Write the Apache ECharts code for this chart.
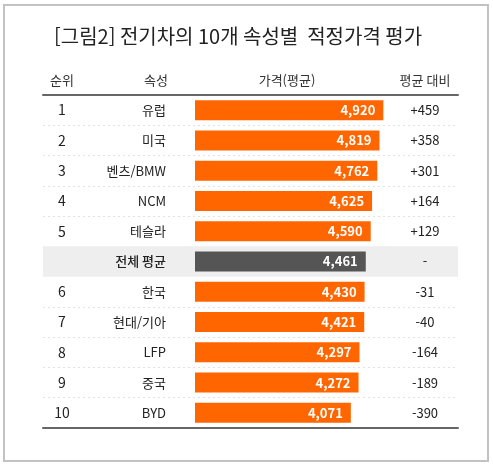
<!DOCTYPE html>
<html lang="ko">

<head>
    <meta charset="UTF-8">
    <title>전기차 속성별 적정가격</title>
    <script type="text/javascript" src="https://cdn.jsdelivr.net/npm/echarts@6/dist/echarts.min.js"></script>
    <style>
        html, body {
            margin: 0;
            padding: 0;
            background: #fff;
        }

        #chart {
            width: 493px;
            height: 467px;
        }
    </style>
</head>

<body>
    <div id="chart"></div>
    <script>
        var ranks = ['1', '2', '3', '4', '5', '', '6', '7', '8', '9', '10'];
        var names = ['유럽', '미국', '벤츠/BMW', 'NCM', '테슬라', '전체 평균', '한국', '현대/기아', 'LFP', '중국', 'BYD'];
        var prices = [4920, 4819, 4762, 4625, 4590, 4461, 4430, 4421, 4297, 4272, 4071];
        var diffs = ['+459', '+358', '+301', '+164', '+129', '-', '-31', '-40', '-164', '-189', '-390'];
        var avgName = '전체 평균';

        var font = 'Noto Sans CJK KR';
        var orange = '#ff6600';
        var gray = '#555555';

        // one shade per row band, only the average row is tinted
        var bandColors = names.map(function (n) {
            return n === avgName ? '#eeeeee' : 'rgba(0,0,0,0)';
        });
        // lines between rows: hide the outer ones and the ones round the average row
        var lineColors = [];
        for (var i = 0; i <= names.length; i++) {
            var hide = i === 0 || i === names.length || names[i] === avgName || names[i - 1] === avgName;
            lineColors.push(hide ? 'rgba(0,0,0,0)' : '#e2e2e2');
        }

        var chart = echarts.init(document.getElementById('chart'));
        var option = {
            animation: false,
            textStyle: { fontFamily: font },
            title: {
                text: '[그림2] 전기차의 10개 속성별  적정가격 평가',
                left: 49,
                top: 21,
                textStyle: { fontSize: 20, fontWeight: 'normal', color: '#222', fontFamily: font }
            },
            graphic: [
                {
                    type: 'rect', silent: true, z: -1,
                    shape: { x: 4, y: 5, width: 484, height: 456 },
                    style: { fill: 'none', stroke: '#c2c2c2', lineWidth: 2 }
                },
                { type: 'text', x: 62, y: 80, style: { text: '순위', textAlign: 'center', textVerticalAlign: 'middle', fontSize: 13, fill: '#333', fontFamily: font } },
                { type: 'text', x: 156, y: 80, style: { text: '속성', textAlign: 'center', textVerticalAlign: 'middle', fontSize: 13, fill: '#333', fontFamily: font } },
                { type: 'text', x: 287, y: 80, style: { text: '가격(평균)', textAlign: 'center', textVerticalAlign: 'middle', fontSize: 13, fill: '#333', fontFamily: font } },
                { type: 'text', x: 425, y: 80, style: { text: '평균 대비', textAlign: 'center', textVerticalAlign: 'middle', fontSize: 13, fill: '#333', fontFamily: font } }
            ],
            grid: [
                { left: 195, right: 106.6, top: 95, bottom: 39 },
                { left: 43, right: 35, top: 95, bottom: 39 }
            ],
            xAxis: [
                { gridIndex: 0, type: 'value', min: 0, max: 5000, show: false },
                {
                    gridIndex: 1, type: 'value', min: 0, max: 1, position: 'top',
                    axisLine: { show: true, lineStyle: { color: '#666', width: 2 } },
                    axisTick: { show: false }, axisLabel: { show: false }, splitLine: { show: false }
                },
                {
                    gridIndex: 1, type: 'value', min: 0, max: 1, position: 'bottom',
                    axisLine: { show: true, lineStyle: { color: '#666', width: 2 } },
                    axisTick: { show: false }, axisLabel: { show: false }, splitLine: { show: false }
                }
            ],
            yAxis: [
                {
                    gridIndex: 0, type: 'category', data: names, inverse: true,
                    axisLine: { show: false }, axisTick: { show: false },
                    axisLabel: {
                        margin: 29, align: 'right', fontSize: 13, color: '#222',
                        formatter: function (v) { return v === avgName ? '{b|' + v + '}' : v; },
                        rich: { b: { fontSize: 13, fontWeight: 500, color: '#222' } }
                    }
                },
                {
                    gridIndex: 0, type: 'category', data: ranks, inverse: true, position: 'left', offset: 133,
                    axisLine: { show: false }, axisTick: { show: false },
                    axisLabel: { margin: 0, align: 'center', fontSize: 14, color: '#222' }
                },
                {
                    gridIndex: 0, type: 'category', data: diffs, inverse: true, position: 'right', offset: 38.6,
                    axisLine: { show: false }, axisTick: { show: false },
                    axisLabel: { margin: 0, align: 'center', fontSize: 13, color: '#222' }
                },
                {
                    gridIndex: 1, type: 'category', data: names, inverse: true,
                    axisLine: { show: false }, axisTick: { show: false }, axisLabel: { show: false },
                    splitArea: { show: true, areaStyle: { color: bandColors } },
                    splitLine: { show: true, lineStyle: { color: lineColors, type: [2, 3], width: 1 } }
                }
            ],
            series: [{
                type: 'bar',
                xAxisIndex: 0,
                yAxisIndex: 0,
                barWidth: 20,
                data: prices.map(function (v, i) {
                    return { value: v, itemStyle: { color: names[i] === avgName ? gray : orange } };
                }),
                label: {
                    show: true,
                    position: 'insideRight',
                    distance: 8,
                    color: '#fff',
                    fontSize: 13,
                    fontWeight: 'bold',
                    formatter: function (p) { return p.value.toLocaleString('en-US'); }
                }
            }]
        };
        chart.setOption(option);
    </script>
</body>

</html>
